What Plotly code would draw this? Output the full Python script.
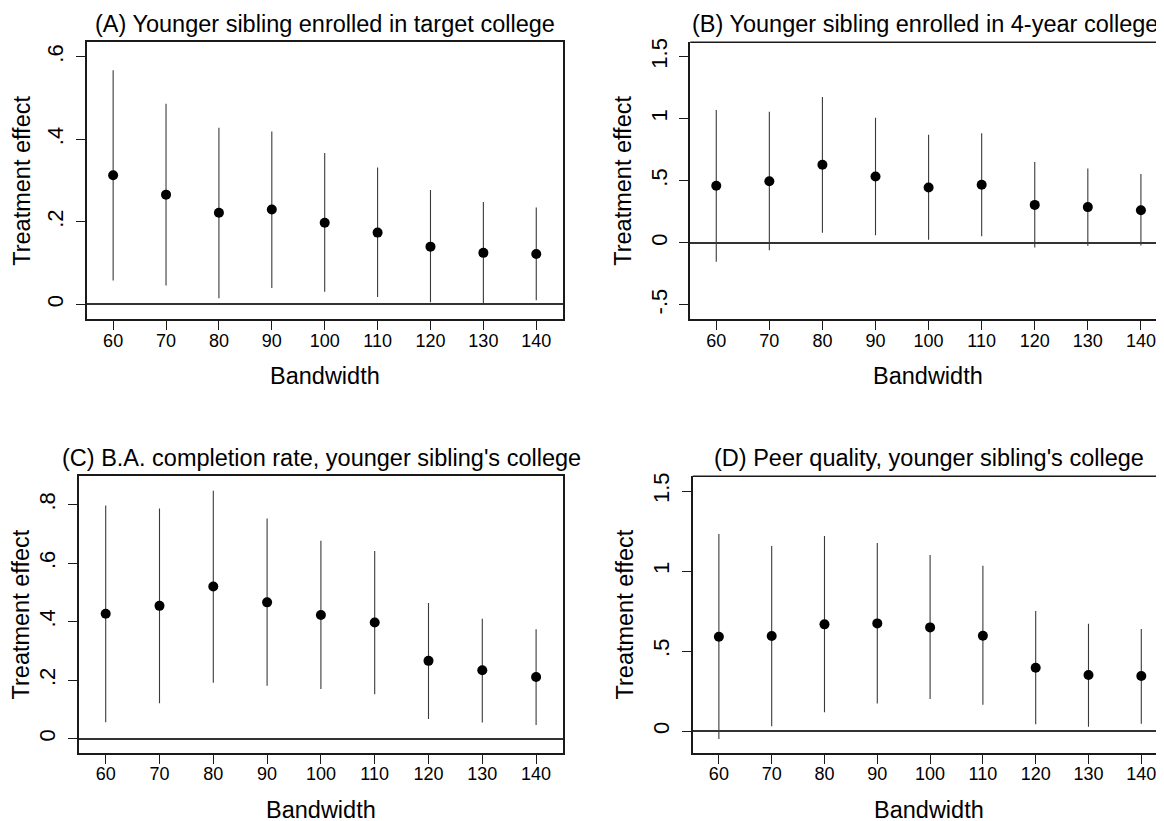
import plotly.graph_objects as go

# page body has an 8px margin, so the figure is sized to end at the viewport edge
OFF = 8
VW, VH = 1164, 821
W, H = VW - OFF, VH - OFF

bandwidth = [60, 70, 80, 90, 100, 110, 120, 130, 140]

# Panel A: Younger sibling enrolled in target college
a_est = [0.313, 0.266, 0.222, 0.230, 0.198, 0.174, 0.140, 0.125, 0.122]
a_hi = [0.567, 0.486, 0.428, 0.419, 0.367, 0.332, 0.277, 0.248, 0.235]
a_lo = [0.058, 0.046, 0.015, 0.040, 0.031, 0.018, 0.005, 0.002, 0.010]

# Panel B: Younger sibling enrolled in 4-year college
b_est = [0.460, 0.497, 0.629, 0.535, 0.446, 0.468, 0.306, 0.288, 0.263]
b_hi = [1.070, 1.056, 1.175, 1.008, 0.871, 0.884, 0.651, 0.599, 0.554]
b_lo = [-0.153, -0.059, 0.081, 0.062, 0.024, 0.054, -0.038, -0.024, -0.022]

# Panel C: B.A. completion rate, younger sibling's college
c_est = [0.427, 0.454, 0.520, 0.466, 0.423, 0.397, 0.266, 0.234, 0.211]
c_hi = [0.797, 0.787, 0.848, 0.753, 0.677, 0.642, 0.464, 0.410, 0.374]
c_lo = [0.056, 0.121, 0.191, 0.181, 0.170, 0.152, 0.067, 0.055, 0.047]

# Panel D: Peer quality, younger sibling's college
d_est = [0.590, 0.594, 0.667, 0.673, 0.648, 0.596, 0.396, 0.350, 0.344]
d_hi = [1.231, 1.156, 1.219, 1.175, 1.100, 1.033, 0.750, 0.671, 0.638]
d_lo = [-0.050, 0.031, 0.117, 0.173, 0.200, 0.165, 0.042, 0.027, 0.046]

titles = [
    "(A) Younger sibling enrolled in target college",
    "(B) Younger sibling enrolled in 4-year college",
    "(C) B.A. completion rate, younger sibling's college",
    "(D) Peer quality, younger sibling's college",
]
x_title = "Bandwidth"
y_title = "Treatment effect"

y_tickvals = [
    [0, 0.2, 0.4, 0.6],
    [-0.5, 0, 0.5, 1, 1.5],
    [0, 0.2, 0.4, 0.6, 0.8],
    [0, 0.5, 1, 1.5],
]
y_ticktext = [
    ["0", ".2", ".4", ".6"],
    ["-.5", "0", ".5", "1", "1.5"],
    ["0", ".2", ".4", ".6", ".8"],
    ["0", ".5", "1", "1.5"],
]

FONT = "Liberation Sans, Arial, Helvetica, sans-serif"

# panel boxes in viewport pixels: (left, right, top, bottom)
boxes = [
    (86.7, 562.7, 42.3, 319.3),
    (690.2, 1164, 42.3, 319.3),
    (78.8, 563.0, 476.3, 752.7),
    (692.8, 1164, 476.3, 752.7),
]
x_ranges = [[55, 145], [55.09, 144.35], [55, 145], [55.06, 144.3]]
y_ranges = [[-0.036, 0.635], [-0.616, 1.616], [-0.048, 0.897], [-0.135, 1.592]]
full_box = [True, False, True, False]
title_cx = [324.7, 925, 321, 929]
label_cx = [324.7, 928, 321, 929]
ytitle_cx = [22, 623, 20, 624]


def px(x):
    return (x - OFF) / W


def py(y):
    return 1 - (y - OFF) / H


series = [(a_est, a_lo, a_hi), (b_est, b_lo, b_hi), (c_est, c_lo, c_hi), (d_est, d_lo, d_hi)]

fig = go.Figure()
annotations = []
shapes = []

for i, ((est, lo, hi), title) in enumerate(zip(series, titles)):
    n = "" if i == 0 else str(i + 1)
    xa, ya = "x" + n, "y" + n
    fig.add_trace(go.Scatter(
        x=bandwidth, y=est, mode="markers", xaxis=xa, yaxis=ya,
        marker=dict(color="black", size=10, line=dict(width=0)),
        error_y=dict(type="data", symmetric=False,
                     array=[h - e for h, e in zip(hi, est)],
                     arrayminus=[e - l for e, l in zip(est, lo)],
                     width=0, thickness=1.1, color="#3a3a3a"),
        showlegend=False, hoverinfo="skip",
    ))
    l, r, t, b = boxes[i]
    xdom = [px(l), min(px(r), 1.0)]
    ydom = [py(b), py(t)]
    axis_common = dict(
        showgrid=False, showline=True, linecolor="#1a1a1a", linewidth=1.6,
        ticks="outside", ticklen=9, tickwidth=1, tickcolor="#1a1a1a",
        mirror=full_box[i], automargin=False,
    )
    fig.update_layout(**{
        ("xaxis" + n): dict(
            domain=xdom, anchor=ya, range=x_ranges[i],
            tickmode="array", tickvals=bandwidth,
            ticktext=[str(v) for v in bandwidth],
            tickfont=dict(family=FONT, size=18, color="black"),
            zeroline=False, ticklabelstandoff=-5, **axis_common),
        ("yaxis" + n): dict(
            domain=ydom, anchor=xa, range=y_ranges[i],
            tickmode="array", tickvals=y_tickvals[i], ticktext=y_ticktext[i],
            tickfont=dict(family=FONT, size=22, color="black"),
            tickangle=-90, zeroline=True, zerolinecolor="#333333",
            zerolinewidth=1.7, ticklabelstandoff=4, **axis_common),
    })
    if not full_box[i]:
        shapes.append(dict(type="line", xref=xa + " domain", yref=ya + " domain",
                           x0=0, x1=1, y0=1, y1=1,
                           line=dict(color="#1a1a1a", width=1.6)))
    # subplot title
    annotations.append(dict(text=title, x=px(title_cx[i]), y=py(t - 18.5),
                            xref="paper", yref="paper", xanchor="center", yanchor="middle",
                            showarrow=False, font=dict(family=FONT, size=23.5, color="black")))
    # x-axis title
    annotations.append(dict(text=x_title, x=px(label_cx[i]), y=py(b + 57),
                            xref="paper", yref="paper", xanchor="center", yanchor="middle",
                            showarrow=False, font=dict(family=FONT, size=23.5, color="black")))
    # y-axis title
    annotations.append(dict(text=y_title, x=px(ytitle_cx[i]), y=py((t + b) / 2),
                            xref="paper", yref="paper", xanchor="center", yanchor="middle",
                            textangle=-90, showarrow=False,
                            font=dict(family=FONT, size=23.5, color="black")))

fig.update_layout(
    width=W, height=H,
    margin=dict(l=0, r=0, t=0, b=0),
    paper_bgcolor="white", plot_bgcolor="white",
    annotations=annotations, shapes=shapes,
    font=dict(family=FONT, color="black"),
)

fig.write_html("out.html")
